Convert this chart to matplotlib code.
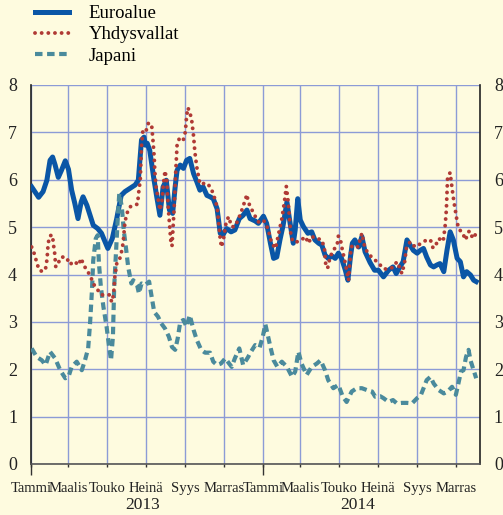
import numpy as np
import pandas as pd
import matplotlib
matplotlib.use('Agg')
import matplotlib.pyplot as plt
import matplotlib.transforms as mtransforms

plt.rcParams['font.family'] = ['Liberation Serif', 'DejaVu Serif']

# days counted from 1.1.2013, values in percent
start = pd.Timestamp('2013-01-01')
end_day = 707

euro_days = [1, 12, 19, 25, 30, 34, 38, 43, 48, 54, 59, 64, 69, 74, 79, 82, 88, 93, 98, 105,
             111, 121, 128, 135, 142, 148, 156, 164, 169, 174, 178, 180, 183, 187, 193, 198, 203, 208, 213, 218,
             223, 227, 230, 235, 240, 245, 250, 256, 261, 266, 271, 277, 282, 287, 293, 298, 302, 308, 315, 321,
             328, 334, 340, 345, 353, 358, 366, 371, 377, 382, 387, 392, 397, 403, 408, 413, 416, 420, 424, 429,
             436, 442, 447, 453, 458, 463, 468, 474, 479, 484, 489, 495, 499, 503, 506, 510, 516, 521, 526, 534,
             541, 547, 555, 563, 570, 575, 581, 586, 592, 597, 602, 608, 613, 618, 623, 629, 634, 639, 644, 650,
             655, 660, 665, 671, 676, 681, 686, 692, 697, 701]
euro_vals = [5.85, 5.63, 5.75, 5.99, 6.41, 6.48, 6.31, 6.05, 6.2, 6.4, 6.22, 5.78, 5.5, 5.18, 5.53, 5.64, 5.46, 5.25, 5.04, 4.97,
             4.87, 4.55, 4.76, 5.18, 5.67, 5.75, 5.82, 5.89, 5.99, 6.84, 6.9, 6.73, 6.77, 6.62, 6.06, 5.64, 5.25, 5.85, 5.99, 5.36,
             5.29, 5.85, 6.2, 6.31, 6.24, 6.41, 6.45, 6.13, 5.96, 5.78, 5.85, 5.67, 5.64, 5.6, 5.39, 4.87, 4.83, 4.97, 4.9, 4.94,
             5.18, 5.25, 5.36, 5.18, 5.13, 5.08, 5.23, 5.08, 4.66, 4.34, 4.37, 4.73, 5.04, 5.53, 5.08, 4.66, 4.94, 5.6, 5.15, 5.01,
             4.87, 4.9, 4.73, 4.66, 4.62, 4.41, 4.34, 4.39, 4.34, 4.45, 4.34, 4.09, 3.88, 4.37, 4.66, 4.73, 4.58, 4.8, 4.48, 4.25,
             4.09, 4.09, 3.95, 4.09, 4.16, 4.02, 4.16, 4.27, 4.73, 4.62, 4.51, 4.45, 4.51, 4.55, 4.37, 4.2, 4.16, 4.2, 4.23, 4.06,
             4.51, 4.9, 4.73, 4.34, 4.27, 3.95, 4.06, 3.99, 3.88, 3.85]

us_days = [1, 6, 9, 13, 19, 23, 25, 26, 27, 30, 34, 35, 37, 39, 43, 48, 56, 61, 68, 75,
           79, 82, 88, 93, 98, 103, 111, 119, 124, 127, 130, 132, 135, 139, 142, 145, 148, 151, 156, 162,
           168, 169, 172, 173, 174, 176, 180, 185, 190, 192, 194, 195, 197, 201, 203, 206, 208, 211, 214, 216,
           218, 220, 222, 224, 226, 228, 230, 234, 237, 240, 243, 245, 247, 250, 253, 256, 258, 261, 264, 266,
           271, 277, 282, 287, 293, 295, 298, 300, 303, 307, 311, 316, 321, 327, 332, 337, 340, 342, 348, 353,
           358, 366, 373, 379, 385, 390, 395, 399, 402, 405, 407, 409, 412, 417, 426, 432, 437, 442, 447, 453,
           458, 462, 464, 467, 471, 476, 482, 484, 487, 489, 495, 500, 504, 508, 515, 521, 526, 531, 538, 547,
           554, 560, 566, 571, 576, 580, 584, 588, 591, 597, 605, 612, 618, 623, 629, 633, 636, 642, 649, 652,
           654, 655, 656, 660, 663, 666, 670, 673, 680, 684, 690, 696, 701]
us_vals = [4.58, 4.41, 4.25, 4.09, 4.06, 4.13, 4.3, 4.46, 4.66, 4.82, 4.83, 4.66, 4.49, 4.16, 4.25, 4.37, 4.36, 4.21, 4.28, 4.2,
           4.34, 4.23, 4.08, 3.99, 3.81, 3.71, 3.57, 3.57, 3.57, 3.42, 3.57, 3.95, 4.23, 4.3, 4.44, 4.66, 5.11, 5.29, 5.43, 5.45,
           5.49, 5.67, 5.99, 6.34, 6.7, 7.01, 6.98, 7.2, 7.15, 6.84, 6.48, 6.17, 5.85, 5.53, 5.36, 5.51, 5.85, 6.19, 5.96, 5.43,
           5.08, 4.73, 4.6, 5.06, 5.57, 6.2, 6.73, 6.89, 6.89, 6.85, 7.01, 7.34, 7.52, 7.43, 7.26, 6.92, 6.59, 6.27, 6.06, 5.91,
           5.92, 5.93, 5.85, 5.71, 5.43, 5.15, 4.74, 4.58, 4.74, 5.08, 5.22, 5.01, 5.01, 5.18, 5.36, 5.56, 5.69, 5.53, 5.36, 5.23,
           5.11, 5.15, 4.97, 4.66, 4.55, 4.87, 5.18, 5.53, 5.86, 5.53, 5.18, 4.87, 4.7, 4.68, 4.73, 4.8, 4.66, 4.81, 4.76, 4.75,
           4.73, 4.55, 4.23, 4.13, 4.37, 4.51, 4.62, 4.81, 4.76, 4.6, 4.23, 3.88, 4.58, 4.62, 4.58, 4.87, 4.55, 4.45, 4.34, 4.25,
           4.13, 4.11, 4.13, 4.16, 4.27, 4.16, 4.02, 4.23, 4.55, 4.69, 4.58, 4.64, 4.69, 4.73, 4.73, 4.56, 4.58, 4.76, 4.7, 5.01,
           5.36, 5.71, 6.06, 6.15, 5.82, 5.53, 5.2, 4.97, 4.87, 4.73, 4.92, 4.76, 4.87]

japan_days = [1, 9, 17, 23, 30, 38, 46, 54, 59, 64, 72, 80, 85, 90, 93, 96, 98, 102, 105, 107,
              110, 114, 119, 123, 126, 129, 131, 134, 137, 139, 143, 146, 150, 153, 158, 161, 167, 170, 174, 180,
              186, 190, 194, 200, 205, 211, 217, 222, 227, 231, 235, 240, 245, 250, 256, 261, 268, 274, 282, 287,
              293, 299, 306, 312, 316, 321, 328, 334, 342, 345, 353, 360, 365, 369, 371, 377, 382, 388, 395, 403,
              411, 416, 421, 426, 434, 442, 450, 456, 463, 468, 476, 484, 491, 497, 505, 513, 521, 529, 537, 542,
              550, 555, 563, 570, 576, 584, 592, 600, 608, 614, 619, 623, 629, 634, 642, 650, 656, 663, 669, 673,
              677, 681, 685, 689, 692, 696, 701]
japan_vals = [2.44, 2.26, 2.19, 2.09, 2.37, 2.23, 1.98, 1.81, 1.84, 2.05, 2.16, 1.98, 2.19, 2.44, 2.97, 3.67, 4.3, 4.76, 4.83, 4.23,
              3.74, 3.32, 2.9, 2.47, 2.19, 2.69, 3.74, 4.51, 5.29, 5.71, 5.43, 4.94, 4.51, 4.16, 3.81, 3.88, 3.78, 3.6, 3.81, 3.78,
              3.85, 3.53, 3.21, 3.11, 2.97, 2.86, 2.69, 2.47, 2.41, 2.65, 3.0, 3.04, 2.9, 3.14, 2.83, 2.62, 2.41, 2.35, 2.35, 2.16,
              2.09, 2.12, 2.23, 2.12, 2.05, 2.23, 2.44, 2.09, 2.26, 2.34, 2.51, 2.46, 2.69, 2.95, 2.83, 2.47, 2.19, 2.05, 2.16, 2.05,
              1.84, 1.95, 2.37, 2.12, 1.88, 2.05, 2.12, 2.19, 1.98, 1.77, 1.6, 1.67, 1.42, 1.31, 1.53, 1.6, 1.6, 1.56, 1.53, 1.42,
              1.43, 1.39, 1.31, 1.35, 1.28, 1.29, 1.29, 1.28, 1.39, 1.46, 1.63, 1.77, 1.84, 1.7, 1.56, 1.49, 1.53, 1.63, 1.46, 1.7,
              1.95, 1.98, 2.26, 2.41, 2.19, 2.02, 1.81]

month_starts = pd.date_range('2013-01-01', '2014-11-01', freq='2MS')
tick_days = (month_starts - start).days
month_names = ['Tammi', 'Maalis', 'Touko', 'Heinä', 'Syys', 'Marras'] * 2
jan_days = tick_days[::6]
years = ['2013', '2014']
year_days = [176, 515]

bg = '#fefbdf'
gridc = '#8c9bd6'

fig = plt.figure(figsize=(5.03, 5.15), dpi=100, facecolor=bg)
ax = fig.add_axes([31/503, 1 - 464/515, 449/503, 379/515])
ax.set_facecolor(bg)

l_eu, = ax.plot(euro_days, euro_vals, color='#0a56a6', lw=3.6, solid_joinstyle='round',
                label='Euroalue', zorder=3)
l_jp, = ax.plot(japan_days, japan_vals, color='#4a8a9c', lw=3.0, ls=(0, (1.8, 1.1)),
                label='Japani', zorder=4)
l_us, = ax.plot(us_days, us_vals, color='#b03a35', lw=2.8, ls=(0, (0.01, 1.7)),
                dash_capstyle='round', label='Yhdysvallat', zorder=5)

ax.set_xlim(0, end_day)
ax.set_ylim(0, 8)
ax.set_yticks(range(9))
ax.tick_params(axis='y', which='both', left=False, right=False, labelleft=True,
               labelright=True, labelsize=13, pad=6.5, colors='#222222')
ax.grid(axis='y', color=gridc, lw=1)

ax.set_xticks(tick_days)
ax.set_xticklabels(month_names)
ax.xaxis.remove_overlapping_locs = False
ax.set_xticks(jan_days, minor=True)
ax.tick_params(axis='x', which='major', length=2.5, width=1, pad=10.5, labelsize=10.5,
               color='#333333', labelcolor='#222222')
ax.tick_params(axis='x', which='minor', length=8, width=1, color='#333333')
ax.grid(axis='x', which='major', color=gridc, lw=1)
ax.set_axisbelow(True)

ax.spines['top'].set_visible(False)
for s in ['left', 'right']:
    ax.spines[s].set_color('#222222')
    ax.spines[s].set_linewidth(1.2)
ax.spines['bottom'].set_color('#555555')
ax.spines['bottom'].set_linewidth(1.2)

trans = mtransforms.blended_transform_factory(ax.transData, ax.transAxes)
for d, y in zip(year_days, years):
    ax.text(d, -0.109, y, transform=trans, ha='center', va='center', fontsize=12.5, color='#222222')

fig.legend(handles=[l_eu, l_us, l_jp], loc='upper left', bbox_to_anchor=(35/503, 1 - 5/515),
           frameon=False, borderpad=0, borderaxespad=0, fontsize=13.5, handlelength=1.8,
           handletextpad=1.05, labelspacing=0.22)

fig.savefig('out.png', dpi=100, facecolor=bg)
